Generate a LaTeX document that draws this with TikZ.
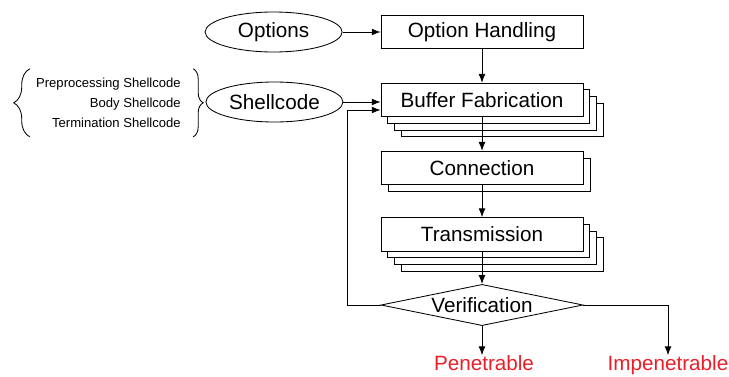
\documentclass[tikz,border=0pt]{standalone}
\usepackage{fontspec}
\setmainfont{Liberation Sans}
\usetikzlibrary{shapes.geometric, shadows, arrows.meta, decorations.pathreplacing}
\definecolor{outred}{RGB}{235,30,40}

\begin{document}
\begin{tikzpicture}[
    >={Latex[length=2.2mm, width=1.7mm]},
    line width=0.6pt,
    every node/.style={font=\fontsize{14.7}{17}\selectfont},
    procbox/.style={draw, fill=white, rectangle, minimum width=5.05cm, minimum height=0.84cm, inner sep=0pt},
    inbox/.style={draw, ellipse, minimum width=3.425cm, minimum height=1cm, inner sep=0pt},
    layer/.style={copy shadow={shadow xshift=#1, shadow yshift=-#1, line width=0.6pt}},
    stackone/.style={procbox, layer=0.175cm},
    stackthree/.style={procbox, layer=0.5cm, layer=0.333cm, layer=0.167cm},
    checkbox/.style={draw, diamond, aspect=5, minimum width=5.05cm, minimum height=1.03cm, inner sep=0pt},
    outcome/.style={text=outred, inner sep=0pt, anchor=north},
    listtext/.style={font=\fontsize{9.3}{14.2}\selectfont, align=right, inner sep=0pt, anchor=east},
    curly/.style={decorate, decoration={brace, amplitude=#1}, line width=0.6pt}
  ]

  \useasboundingbox (0, 0) rectangle (18.225, 9.4);

  % inputs
  \node[inbox] (opts) at (6.84, 8.6) {Options};
  \node[inbox] (shell) at (6.86, 6.85) {Shellcode};
  \node[listtext] (parts) at (4.53, 6.83) {Preprocessing Shellcode\\ Body Shellcode\\ Termination Shellcode};
  \draw[curly=0.4cm] ([shift={(-0.15, -0.22)}]parts.south west) -- ([shift={(-0.15, 0.22)}]parts.north west);
  \draw[curly=0.25cm] ([shift={(0.3, 0.22)}]parts.north east) -- ([shift={(0.3, -0.22)}]parts.south east);

  % processing steps
  \node[procbox] (handle) at (12.05, 8.6) {Option Handling};
  \node[stackthree] (buffer) at (12.05, 6.9) {Buffer Fabrication};
  \node[stackone] (conn) at (12.05, 5.2) {Connection};
  \node[stackthree] (trans) at (12.05, 3.54) {Transmission};
  \node[checkbox] (verif) at (12.05, 1.775) {Verification};

  % results
  \node[outcome] (pen) at (12.1, 0.52) {Penetrable};
  \node[outcome] (impen) at (16.7, 0.52) {Impenetrable};

  \draw[->] (opts) -- (handle);
  \draw[->] (handle) -- (buffer);
  \draw[->] (shell.east) -- (shell.east -| buffer.west);
  \draw[->] (buffer) -- (conn);
  \draw[->] (conn) -- (trans);
  \draw[->] (trans) -- (verif);
  \draw[->] (verif.west) -| ([shift={(-0.825, -0.25)}]buffer.west) -- ([yshift=-0.25cm]buffer.west);
  \draw[->] (verif.south) -- (verif.south |- pen.north);
  \draw[->] (verif.east) -| (impen.north);

\end{tikzpicture}
\end{document}
